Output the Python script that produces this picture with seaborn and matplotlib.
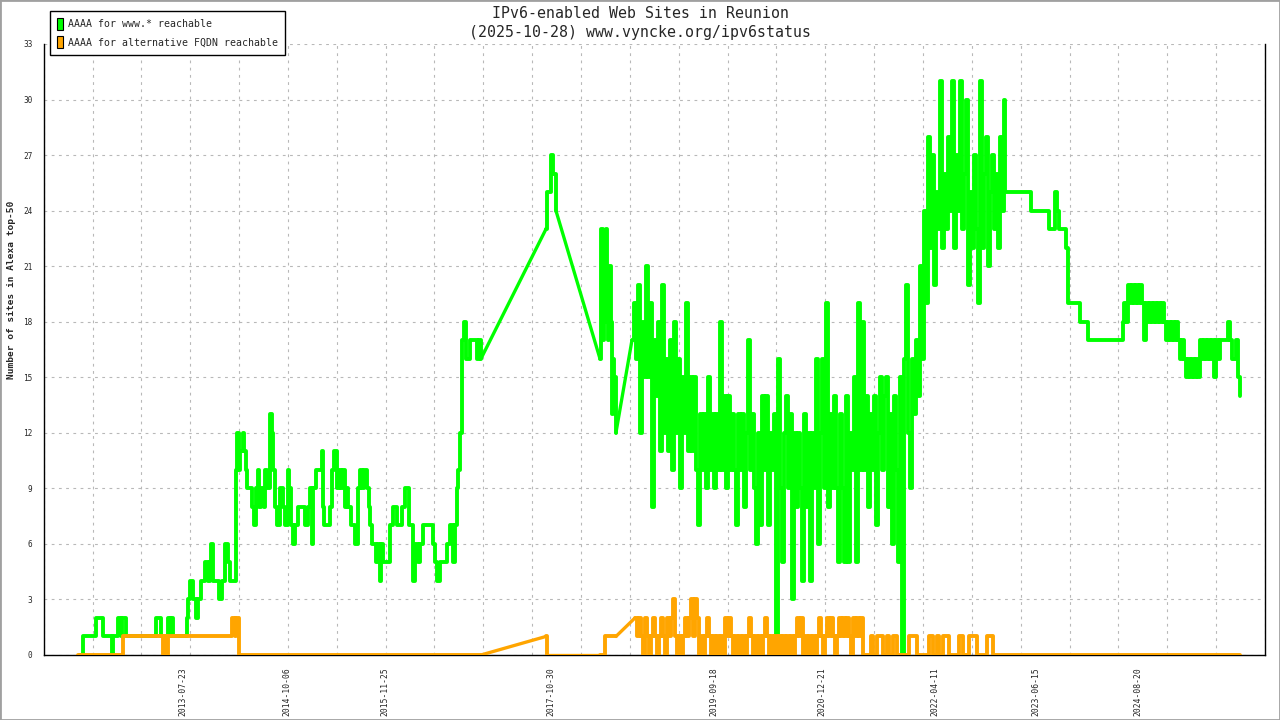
import numpy as np
import pandas as pd
import matplotlib
matplotlib.use('Agg')
import matplotlib.pyplot as plt
from matplotlib.patches import Patch, Rectangle
import seaborn as sns

sns.set_style('white')
plt.rcParams['font.family'] = ['DejaVu Sans Mono', 'DejaVu Sans']

GREEN = '#00ff00'
ORANGE = '#ffa500'
LINE_W = 2.8

# =====================================================
# Data (x = decimal year, y = number of sites)
# =====================================================

# --- AAAA for www.* reachable ---
green_early_year = [
    2012.359, 2012.394, 2012.545, 2012.626, 2012.730, 2012.748, 2012.800, 2012.835, 2012.846, 2012.893,
    2013.241, 2013.299, 2013.380, 2013.403, 2013.415, 2013.438, 2013.600, 2013.612, 2013.635, 2013.670,
    2013.705, 2013.734, 2013.763, 2013.809, 2013.844, 2013.867, 2013.879, 2013.902, 2013.971, 2014.006,
    2014.041, 2014.076, 2014.099, 2014.169, 2014.186, 2014.203, 2014.221, 2014.250, 2014.262, 2014.285,
    2014.296, 2014.354, 2014.378, 2014.401, 2014.424, 2014.436, 2014.459, 2014.494, 2014.505, 2014.528,
    2014.563, 2014.587, 2014.598, 2014.621, 2014.644, 2014.679, 2014.714, 2014.737, 2014.772, 2014.784,
    2014.807, 2014.830, 2014.853, 2014.888, 2014.969, 2015.004, 2015.027, 2015.050, 2015.062, 2015.097,
    2015.166, 2015.178, 2015.190, 2015.259, 2015.283, 2015.306, 2015.340, 2015.364, 2015.387, 2015.410,
    2015.433, 2015.457, 2015.468, 2015.503, 2015.549, 2015.584, 2015.607, 2015.630, 2015.654, 2015.688,
    2015.712, 2015.723, 2015.746, 2015.793, 2015.816, 2015.839, 2015.851, 2015.874, 2015.955, 2015.990,
    2016.037, 2016.095, 2016.130, 2016.176, 2016.223, 2016.246, 2016.281, 2016.304, 2016.339, 2016.455,
    2016.478, 2016.501, 2016.536, 2016.617, 2016.652, 2016.686, 2016.710, 2016.733, 2016.744, 2016.767,
    2016.791, 2016.814, 2016.837, 2016.884, 2016.965, 2016.988, 2017.011,
]
green_early_sites = [
    0, 1, 2, 1, 0, 1, 2, 1, 2, 1,
    2, 1, 2, 1, 2, 1, 2, 3, 4, 3,
    2, 3, 4, 5, 4, 5, 6, 4, 3, 4,
    6, 5, 4, 10, 12, 10, 11, 12, 11, 10,
    9, 8, 7, 9, 10, 8, 9, 8, 10, 9,
    13, 12, 10, 8, 7, 9, 8, 7, 10, 9,
    7, 6, 7, 8, 7, 8, 9, 6, 9, 10,
    11, 8, 7, 8, 10, 11, 9, 10, 9, 10,
    8, 9, 8, 7, 6, 9, 10, 9, 10, 9,
    8, 7, 6, 5, 6, 4, 6, 5, 7, 8,
    7, 8, 9, 7, 4, 6, 5, 6, 7, 6,
    5, 4, 5, 6, 7, 5, 7, 9, 10, 12,
    17, 18, 16, 17, 16, 17, 16,
]

green_2017_year = [2017.765, 2017.777, 2017.824, 2017.847, 2017.881]
green_2017_sites = [23, 25, 27, 26, 24]

green_2018_year = [2018.392, 2018.403, 2018.427, 2018.438, 2018.450, 2018.461, 2018.473,
                   2018.485, 2018.496, 2018.519, 2018.531, 2018.543, 2018.554, 2018.577]
green_2018_sites = [16, 23, 17, 22, 18, 23, 20, 17, 21, 18, 13, 16, 15, 12]

# frequent measurements 2018-10 .. 2023-01 (one value every 0.0232 year)
green_dense_start = 2018.763
green_dense_step = 0.0232
green_dense_sites = [
    17, 19, 16, 20, 12, 18, 15, 21, 15, 19,
    8, 17, 14, 18, 11, 20, 12, 16, 11, 17,
    10, 18, 12, 16, 9, 15, 12, 19, 11, 15,
    11, 15, 10, 7, 13, 10, 13, 9, 15, 10,
    13, 9, 13, 10, 18, 10, 14, 9, 14, 10,
    13, 10, 7, 13, 10, 13, 8, 12, 17, 10,
    13, 9, 6, 12, 7, 14, 10, 14, 7, 12,
    10, 13, 0, 16, 9, 5, 12, 14, 9, 13,
    3, 12, 8, 12, 9, 4, 13, 8, 12, 4,
    12, 9, 16, 6, 12, 16, 9, 19, 8, 13,
    9, 14, 9, 5, 13, 9, 5, 14, 5, 12,
    10, 15, 5, 19, 10, 18, 10, 14, 8, 13,
    10, 14, 7, 12, 15, 10, 14, 15, 8, 13,
    6, 14, 10, 5, 15, 0, 16, 20, 12, 9,
    16, 13, 17, 14, 21, 16, 24, 19, 28, 22,
    27, 20, 25, 23, 31, 22, 26, 23, 28, 24,
    31, 22, 27, 24, 31, 23, 26, 30, 20, 25,
    22, 27, 23, 19, 31, 22, 26, 28, 21, 25,
    27, 23, 26, 22, 28, 24, 30,
]

green_late_year = [2023.091, 2023.392, 2023.601, 2023.671, 2023.694, 2023.717, 2023.798,
                   2023.822, 2023.961, 2024.053, 2024.459, 2024.471, 2024.494]
green_late_sites = [25, 24, 23, 25, 24, 23, 22, 19, 18, 17, 18, 19, 18]

green_tail_start = 2024.518
green_tail_step = 0.0232
green_tail_sites = [
    20, 19, 20, 19, 20, 19, 20, 19, 17, 19,
    18, 19, 18, 19, 18, 19, 18, 19, 18, 17,
    18, 17, 18, 17, 18, 17, 16, 17, 16, 15,
    16, 15, 16, 15, 16, 15, 17, 16, 17, 16,
    17, 16, 17, 15, 17, 16, 17, 17, 17, 17,
    18, 17, 16, 16, 17, 15, 14,
]

# --- AAAA for alternative FQDN reachable ---
orange_early_year = [2012.336, 2012.858, 2013.322, 2013.345, 2013.357, 2013.380,
                     2014.122, 2014.157, 2014.169, 2014.203, 2017.011]
orange_early_sites = [0, 1, 0, 1, 0, 1, 2, 1, 2, 0, 0]

orange_2017_year = [2017.765, 2017.777]
orange_2017_sites = [1, 0]

orange_2018_year = [2018.392, 2018.450, 2018.577]
orange_2018_sites = [0, 1, 1]

orange_dense_start = 2018.798
orange_dense_step = 0.0232
orange_dense_sites = [
    2, 1, 2, 1, 0, 2, 1, 0, 1, 2,
    1, 0, 1, 2, 1, 0, 2, 1, 2, 3,
    1, 0, 1, 0, 1, 2, 1, 2, 3, 1,
    3, 2, 0, 1, 0, 1, 2, 1, 0, 1,
    0, 1, 0, 1, 0, 2, 1, 2, 1, 0,
    1, 0, 1, 0, 1, 0, 1, 2, 1, 0,
    1, 0, 1, 0, 1, 2, 1, 0, 1, 0,
    1, 0, 1, 0, 1, 0, 1, 0, 1, 0,
    1, 2, 1, 2, 0, 1, 0, 1, 0, 1,
    0, 1, 2, 1, 0, 1, 2, 1, 2, 1,
    0, 1, 2, 1, 2, 1, 2, 1, 0, 2,
    1, 2, 1, 2, 0, 0, 0, 0, 1, 0,
    0, 1, 1, 1, 0, 0, 1, 0, 0, 1,
    1, 0, 0, 0, 0, 0, 0, 1, 1, 1,
    1, 0, 0, 0, 0, 0, 0, 1, 1, 0,
    0, 1, 0, 0, 1, 1, 1, 0, 0, 0,
    0, 0, 1, 1, 0, 0, 0, 1, 1, 1,
    1, 0, 0, 0, 0, 0, 1, 1, 1, 0,
    0, 0, 0, 0,
]
orange_end_year = [2025.817]
orange_end_sites = [0]

tick_dates = ['2013-07-23', '2014-10-06', '2015-11-25', '2017-10-30', '2019-09-18',
              '2020-12-21', '2022-04-11', '2023-06-15', '2024-08-20']

# =====================================================
# Build segments (data gaps are bridged with straight lines)
# =====================================================

def regular(start, step, values):
    return list(start + step * np.arange(len(values))), list(values)

gd_year, gd_sites = regular(green_dense_start, green_dense_step, green_dense_sites)
gt_year, gt_sites = regular(green_tail_start, green_tail_step, green_tail_sites)
od_year, od_sites = regular(orange_dense_start, orange_dense_step, orange_dense_sites)

green_segments = [
    (green_early_year, green_early_sites),
    (green_2017_year, green_2017_sites),
    (green_2018_year, green_2018_sites),
    (gd_year + green_late_year + gt_year, gd_sites + green_late_sites + gt_sites),
]
orange_segments = [
    (orange_early_year, orange_early_sites),
    (orange_2017_year, orange_2017_sites),
    (orange_2018_year, orange_2018_sites),
    (od_year + orange_end_year, od_sites + orange_end_sites),
]

# =====================================================
# Plot
# =====================================================

fig = plt.figure(figsize=(12.8, 7.2), dpi=100)
ax = fig.add_axes([0.0341, 0.0903, 0.9542, 0.8486])


def draw_series(segments, color, z):
    prev = None
    for xs, ys in segments:
        if prev is not None:
            gap = pd.DataFrame({'year': [prev[0], xs[0]], 'sites': [prev[1], ys[0]]})
            sns.lineplot(data=gap, x='year', y='sites', ax=ax, color=color,
                         linewidth=LINE_W * 0.85, estimator=None, sort=False,
                         legend=False, zorder=z)
        seg = pd.DataFrame({'year': xs, 'sites': ys})
        sns.lineplot(data=seg, x='year', y='sites', ax=ax, color=color,
                     linewidth=LINE_W, drawstyle='steps-post', estimator=None,
                     sort=False, legend=False, zorder=z)
        prev = (xs[-1], ys[-1])


draw_series(green_segments, GREEN, 3)
draw_series(orange_segments, ORANGE, 4)

x_left, x_right = 2011.938, 2026.107
ax.set_xlim(x_left, x_right)
ax.set_ylim(0, 33)

tick_years = [d.year + (d.dayofyear - 1) / 365.25 for d in pd.to_datetime(tick_dates)]
ax.set_xticks(tick_years)
ax.set_xticklabels(tick_dates, rotation=90, fontsize=5.8)
ax.set_xticks(np.linspace(x_left, x_right, 26), minor=True)
ax.tick_params(axis='x', which='major', length=0, pad=9)
ax.tick_params(axis='x', which='minor', direction='inout', length=7, width=1, color='black')

ax.set_yticks(range(0, 34, 3))
ax.tick_params(axis='y', direction='inout', length=8, width=1, labelsize=5.6, pad=4, color='black')

ax.grid(False)
grid_kw = dict(color='#b8b8b8', linewidth=0.8, linestyle=(0, (2.5, 4)))
ax.grid(which='minor', axis='x', **grid_kw)
ax.grid(which='major', axis='y', **grid_kw)
ax.set_axisbelow(True)

for side in ['left', 'bottom', 'right']:
    ax.spines[side].set_visible(True)
    ax.spines[side].set_color('black')
    ax.spines[side].set_linewidth(1)
ax.spines['top'].set_visible(False)

ax.set_xlabel('')
ax.set_ylabel('')
fig.text(12 / 1280, 1 - 290 / 720, 'Number of sites in Alexa top-50', rotation=90,
         ha='center', va='center', fontsize=6.8, fontweight='bold')

fig.text(0.5, 1 - 13 / 720, 'IPv6-enabled Web Sites in Reunion',
         ha='center', va='center', fontsize=10.7)
fig.text(0.5, 1 - 32 / 720, '(2025-10-28) www.vyncke.org/ipv6status',
         ha='center', va='center', fontsize=10.7)

handles = [
    Patch(facecolor=GREEN, edgecolor='black', linewidth=0.8, label='AAAA for www.* reachable'),
    Patch(facecolor=ORANGE, edgecolor='black', linewidth=0.8, label='AAAA for alternative FQDN reachable'),
]
leg = fig.legend(handles=handles, loc='upper left', bbox_to_anchor=(50 / 1280, 1 - 10.7 / 720),
                 fontsize=7.1, frameon=True, fancybox=False, edgecolor='black', framealpha=1,
                 handlelength=0.6, handleheight=1.6, handletextpad=0.5, labelspacing=0.55,
                 borderpad=0.7, borderaxespad=0)
leg.get_frame().set_linewidth(1)

fig.add_artist(Rectangle((0, 0), 1, 1, transform=fig.transFigure, fill=False,
                         edgecolor='#a0a0a0', linewidth=2))

fig.savefig('out.png', dpi=100, facecolor='white')
